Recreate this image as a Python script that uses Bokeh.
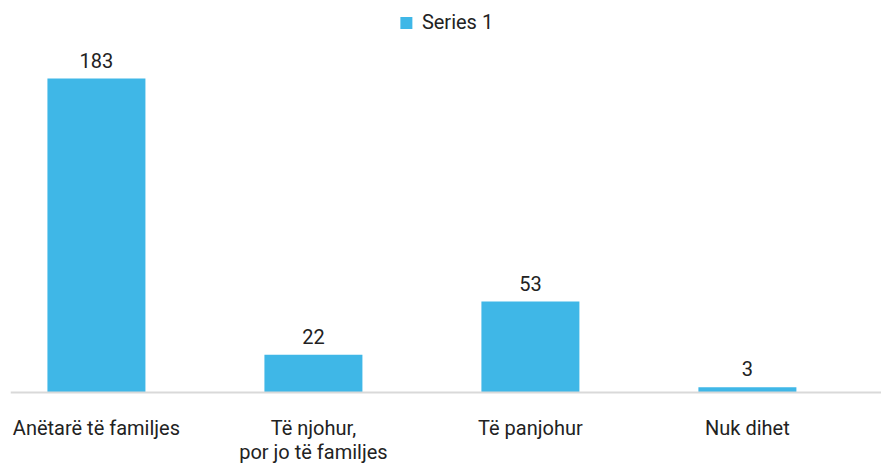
from bokeh.plotting import figure
from bokeh.models import ColumnDataSource, LabelSet, Legend, LegendItem, Range1d, Span
from bokeh.core.properties import value
from bokeh.embed import file_html
from bokeh.resources import INLINE

categories = ["Anëtarë të familjes", "Të njohur,\npor jo të familjes", "Të panjohur", "Nuk dihet"]
values = [183, 22, 53, 3]
series_name = "Series 1"

xs = list(range(len(categories)))
src = ColumnDataSource(dict(x=xs, v=values, lab=[str(v) for v in values]))

# category labels split into lines, each line centred on its own
line1 = [c.split("\n")[0] for c in categories]
line2 = [c.split("\n")[1] if "\n" in c else "" for c in categories]
cat_src = ColumnDataSource(dict(x=xs, zero=[0] * len(xs), l1=line1, l2=line2))

p = figure(width=881, height=463, output_backend="svg", toolbar_location=None,
           x_range=Range1d(-0.396, 3.618), y_range=Range1d(-41.38, 225.55),
           min_border_left=10, min_border_right=0, min_border_top=5, min_border_bottom=0)
p.outline_line_color = None
p.xgrid.visible = False
p.ygrid.visible = False
p.yaxis.visible = False
p.xaxis.visible = False

p.add_layout(Span(location=0, dimension="width", line_color="#D9D9D9", line_width=2))

r = p.vbar(x="x", top="v", bottom=0, width=0.4516, source=src, color="#3FB7E7", line_color=None)

labels = LabelSet(x="x", y="v", text="lab", source=src, text_align="center", text_baseline="bottom",
                  y_offset=11, text_font=value("Roboto"), text_font_size="20px", text_color="#222222")
p.add_layout(labels)

for col, off in (("l1", -36), ("l2", -60)):
    p.add_layout(LabelSet(x="x", y="zero", text=col, source=cat_src, text_align="center",
                          text_baseline="middle", y_offset=off, text_font=value("Roboto"),
                          text_font_size="20px", text_color="#222222"))

leg = Legend(items=[LegendItem(label=series_name, renderers=[r])], location="top_center",
             orientation="horizontal", border_line_color=None, background_fill_alpha=0,
             label_text_font="Roboto", label_text_font_size="20px", label_text_color="#222222",
             glyph_width=15, glyph_height=15, padding=0, margin=5, label_standoff=9)
p.add_layout(leg)

open("out.html", "w").write(file_html(p, INLINE))
